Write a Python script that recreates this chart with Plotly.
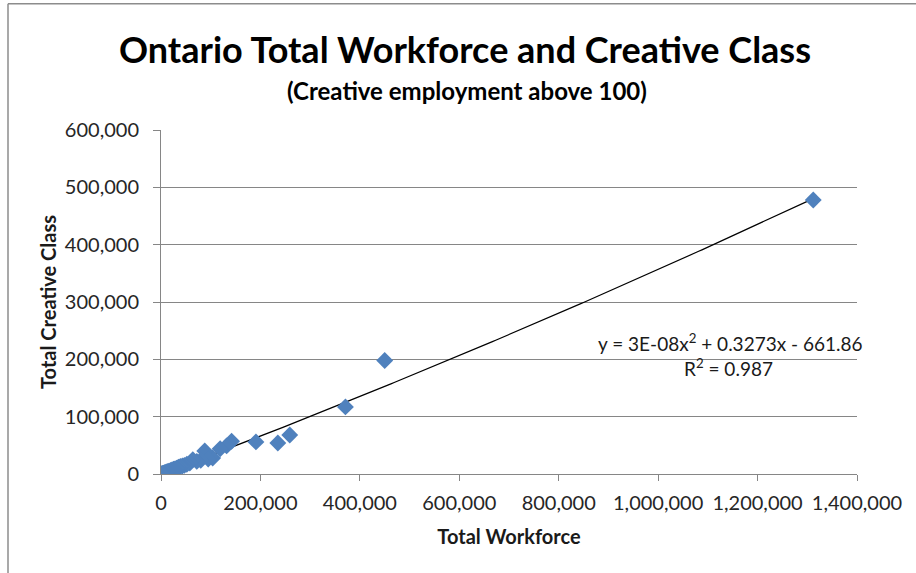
import plotly.graph_objects as go
import numpy as np

# Total workforce (x) and total creative class (y) per area
workforce = [1312000, 450000, 371000, 259000, 235000, 191000, 142000, 132000,
             119000, 104000, 88000, 95000, 80000, 72000, 64000, 58000, 52000,
             47000, 43000, 39000, 35000, 31000, 28000, 25000, 22000, 19000,
             16000, 14000, 12000, 10000, 8000, 6500, 5000, 3500, 2500, 1500]
creative = [478000, 198000, 117000, 68000, 54000, 56000, 57000, 49000,
            44000, 28000, 40000, 26000, 24000, 22000, 25000, 19000, 17000,
            15000, 14000, 13000, 12000, 10000, 9000, 8500, 7000, 6000,
            5000, 4500, 4000, 3000, 2500, 2000, 1500, 1000, 700, 400]

# Trendline coefficients as displayed on the chart
a2, a1, a0 = 3e-08, 0.3273, -661.86
eq_text = "y = 3E-08x<sup>2</sup> + 0.3273x - 661.86"
r2_text = "R<sup>2</sup> = 0.987"

x_ticks = [0, 200000, 400000, 600000, 800000, 1000000, 1200000, 1400000]
y_ticks = [0, 100000, 200000, 300000, 400000, 500000, 600000]

xt = np.linspace(min(workforce), max(workforce), 200)
yt = a2 * xt**2 + a1 * xt + a0

FONT = "Lato"
grey = "#868686"

fig = go.Figure()
fig.add_trace(go.Scatter(x=xt, y=yt, mode="lines",
                         line=dict(color="black", width=1.2), hoverinfo="skip"))
fig.add_trace(go.Scatter(x=workforce, y=creative, mode="markers",
                         marker=dict(symbol="diamond", size=13, color="#4F81BD",
                                     line=dict(width=0))))

L, R, T, B = 161, 59, 129.5, 99
W, H = 916, 573
pw, ph = W - L - R, H - T - B

def px(xp):
    return (xp - L) / pw

def py(yp):
    return (H - B - yp) / ph

fig.update_layout(
    width=W, height=H,
    margin=dict(l=L, r=R, t=T, b=B),
    paper_bgcolor="white", plot_bgcolor="white",
    showlegend=False,
    font=dict(family=FONT, color="#262626"),
    xaxis=dict(range=[0, 1400000], tickvals=x_ticks,
               ticktext=[f"{v:,}" for v in x_ticks],
               showgrid=False, zeroline=False,
               showline=True, linecolor=grey, linewidth=1,
               ticks="outside", ticklen=6, tickcolor=grey,
               ticklabelstandoff=5,
               tickfont=dict(size=20, family=FONT, color="#262626"),
               title=dict(text="<b>Total Workforce</b>", standoff=16,
                          font=dict(size=20, family=FONT, color="#1a1a1a"))),
    yaxis=dict(range=[0, 600000], tickvals=y_ticks,
               ticktext=[f"{v:,}" for v in y_ticks],
               showgrid=True, gridcolor=grey, gridwidth=1, zeroline=False,
               showline=True, linecolor=grey, linewidth=1,
               ticks="outside", ticklen=7, tickcolor=grey,
               ticklabelstandoff=10,
               tickfont=dict(size=20, family=FONT, color="#262626"),
               title=dict(text="<b>Total Creative Class</b>", standoff=2,
                          font=dict(size=20, family=FONT, color="#1a1a1a"))),
)

def ann(text, xp, yp, size, color="black"):
    fig.add_annotation(text=text, xref="paper", yref="paper",
                       x=px(xp), y=py(yp), xanchor="center", yanchor="middle",
                       showarrow=False,
                       font=dict(size=size, family=FONT, color=color))

ann("<b>Ontario Total Workforce and Creative Class</b>", 465, 48, 36)
ann("<b>(Creative employment above 100)</b>", 467, 90, 24)
ann(eq_text, 730, 342, 19, "#1a1a1a")
ann(r2_text, 728, 367, 19, "#1a1a1a")

# chart-area border (left and top visible)
fig.add_shape(type="line", xref="paper", yref="paper",
              x0=px(8), x1=px(8), y0=py(3), y1=py(580),
              line=dict(color="#8c8c8c", width=1.5))
fig.add_shape(type="line", xref="paper", yref="paper",
              x0=px(8), x1=px(920), y0=py(3), y1=py(3),
              line=dict(color="#8c8c8c", width=1.5))

fig.write_html("out.html", config={"displayModeBar": False},
               post_script="document.body.style.margin='0';"
                           "document.body.style.overflow='hidden';")
